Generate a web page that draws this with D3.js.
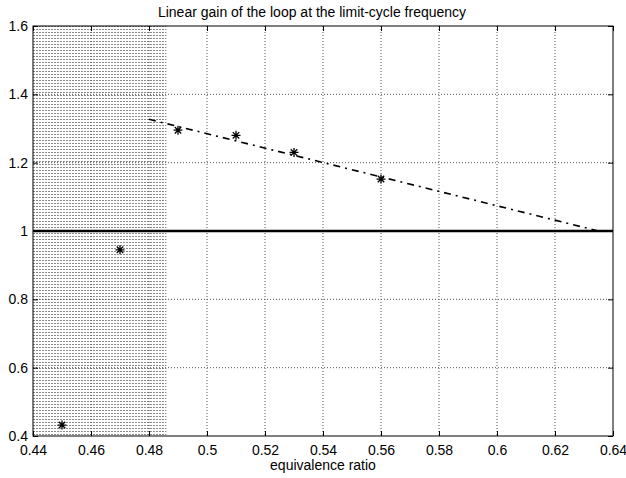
<!DOCTYPE html>
<html>
<head>
<meta charset="utf-8">
<script src="https://cdn.jsdelivr.net/npm/d3@7"></script>
<style>
  body { margin: 0; background: #fff; }
  svg { font-family: "Liberation Sans", Arial, sans-serif; }
</style>
</head>
<body>
<svg id="chart" width="626" height="478"></svg>
<script>
// data
var xTicks = [0.44, 0.46, 0.48, 0.5, 0.52, 0.54, 0.56, 0.58, 0.6, 0.62, 0.64];
var yTicks = [0.4, 0.6, 0.8, 1, 1.2, 1.4, 1.6];
var measuredPhi = [0.45, 0.47, 0.49, 0.51, 0.53, 0.56];
var measuredGain = [0.432, 0.945, 1.295, 1.28, 1.23, 1.152];
var fitPhi = [0.48, 0.635];
var fitGain = [1.327, 1.0];
var unityGain = [1, 1];
var shadedPhi = [0.44, 0.486];

var margin = { top: 26, right: 13, bottom: 42, left: 33 };
var svg = d3.select("#chart");
var width = +svg.attr("width") - margin.left - margin.right;
var height = +svg.attr("height") - margin.top - margin.bottom;

var x = d3.scaleLinear().domain([0.44, 0.64]).range([0, width]);
var y = d3.scaleLinear().domain([0.4, 1.6]).range([height, 0]);

var defs = svg.append("defs");
var pat = defs.append("pattern")
    .attr("id", "stipple")
    .attr("patternUnits", "userSpaceOnUse")
    .attr("width", 3).attr("height", 3);
pat.append("rect").attr("width", 2).attr("height", 1).attr("fill", "#8a8a8a");

var g = svg.append("g").attr("transform", "translate(" + margin.left + "," + margin.top + ")");

// stippled band
g.append("rect")
    .attr("x", x(shadedPhi[0]))
    .attr("y", 0)
    .attr("width", x(shadedPhi[1]) - x(shadedPhi[0]))
    .attr("height", height)
    .attr("fill", "url(#stipple)");

// grid
g.append("g").selectAll("line")
    .data(xTicks.slice(1, -1))
    .enter().append("line")
    .attr("x1", function (d) { return x(d); }).attr("x2", function (d) { return x(d); })
    .attr("y1", 0).attr("y2", height)
    .attr("stroke", "#555").attr("stroke-width", 1).attr("stroke-dasharray", "1,2");
g.append("g").selectAll("line")
    .data(yTicks.slice(1, -1))
    .enter().append("line")
    .attr("y1", function (d) { return y(d); }).attr("y2", function (d) { return y(d); })
    .attr("x1", 0).attr("x2", width)
    .attr("stroke", "#555").attr("stroke-width", 1).attr("stroke-dasharray", "1,2");

// axes with inward ticks
g.append("g")
    .attr("transform", "translate(0," + height + ")")
    .call(d3.axisBottom(x).tickValues(xTicks).tickSizeInner(-5).tickSizeOuter(0).tickPadding(9)
        .tickFormat(function (d) { return String(+d.toFixed(2)); }))
    .call(function (a) {
        a.select(".domain").remove();
        a.selectAll("text").attr("font-size", 14).attr("fill", "#000");
    });
g.append("g")
    .call(d3.axisTop(x).tickValues(xTicks).tickSizeInner(-5).tickSizeOuter(0).tickFormat(""))
    .call(function (a) { a.select(".domain").remove(); });
g.append("g")
    .call(d3.axisLeft(y).tickValues(yTicks).tickSizeInner(-5).tickSizeOuter(0).tickPadding(5)
        .tickFormat(function (d) { return String(+d.toFixed(1)); }))
    .call(function (a) {
        a.select(".domain").remove();
        a.selectAll("text").attr("font-size", 14).attr("fill", "#000");
    });
g.append("g")
    .attr("transform", "translate(" + width + ",0)")
    .call(d3.axisRight(y).tickValues(yTicks).tickSizeInner(-5).tickSizeOuter(0).tickFormat(""))
    .call(function (a) { a.select(".domain").remove(); });

g.append("rect")
    .attr("width", width).attr("height", height)
    .attr("fill", "none").attr("stroke", "#000").attr("stroke-width", 1);

// unity gain line
g.append("line")
    .attr("x1", x(xTicks[0])).attr("x2", x(xTicks[xTicks.length - 1]))
    .attr("y1", y(unityGain[0])).attr("y2", y(unityGain[1]))
    .attr("stroke", "#000").attr("stroke-width", 2.5);

// fitted dash-dot line
var line = d3.line().x(function (d) { return x(d[0]); }).y(function (d) { return y(d[1]); });
g.append("path")
    .datum(d3.zip(fitPhi, fitGain))
    .attr("d", line)
    .attr("fill", "none").attr("stroke", "#000").attr("stroke-width", 1.6)
    .attr("stroke-dasharray", "7,5,2,5");

// asterisk markers
var r = 4.5;
g.append("g").selectAll("path")
    .data(d3.zip(measuredPhi, measuredGain))
    .enter().append("path")
    .attr("d", function (d) {
        var cx = x(d[0]), cy = y(d[1]), p = d3.path(), k = r * 0.72;
        p.moveTo(cx - r, cy); p.lineTo(cx + r, cy);
        p.moveTo(cx, cy - r); p.lineTo(cx, cy + r);
        p.moveTo(cx - k, cy - k); p.lineTo(cx + k, cy + k);
        p.moveTo(cx - k, cy + k); p.lineTo(cx + k, cy - k);
        return p.toString();
    })
    .attr("stroke", "#000").attr("stroke-width", 1.3).attr("fill", "none");

// labels
svg.append("text")
    .attr("x", 312).attr("y", 17)
    .attr("text-anchor", "middle").attr("font-size", 14)
    .text("Linear gain of the loop at the limit-cycle frequency");
svg.append("text")
    .attr("x", margin.left + width / 2).attr("y", 470)
    .attr("text-anchor", "middle").attr("font-size", 14)
    .text("equivalence ratio");
</script>
</body>
</html>
